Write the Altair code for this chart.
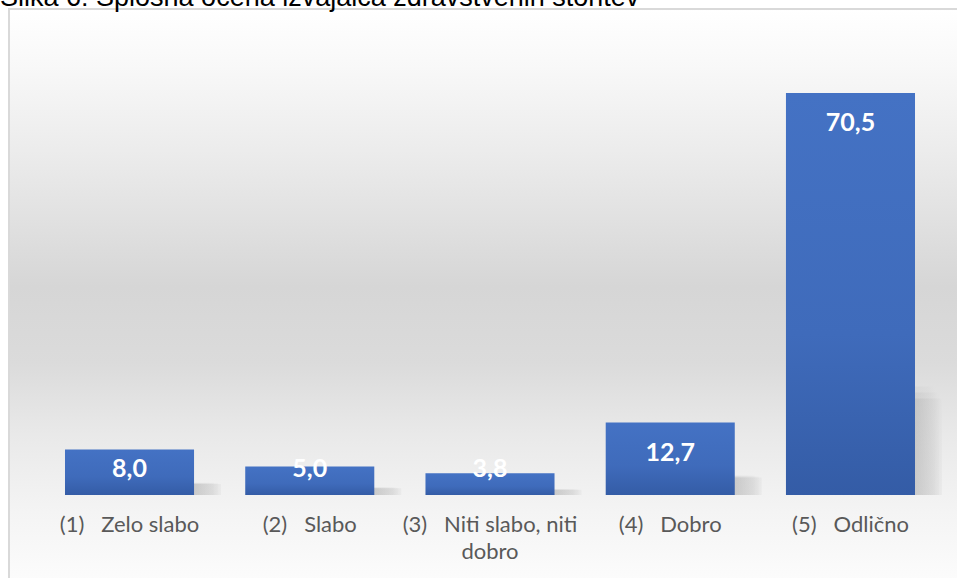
import altair as alt
import pandas as pd

# ---- data ----
categories = ["(1)   Zelo slabo", "(2)   Slabo", "(3)   Niti slabo, niti|dobro", "(4)   Dobro", "(5)   Odlično"]
values = [8.0, 5.0, 3.8, 12.7, 70.5]
value_labels = ["8,0", "5,0", "3,8", "12,7", "70,5"]
title_text = "Slika 6: Splošna ocena izvajalca zdravstvenih storitev"

df = pd.DataFrame({
    "cat": [c.replace(" ", "\u00a0") for c in categories],
    "value": values,
    "label": value_labels,
})

W, H = 901.2, 475
PAD = {"left": 39.4, "top": 20, "right": 16.4, "bottom": 83}

xenc = alt.X(
    "cat:N", sort=None,
    scale=alt.Scale(paddingInner=0.284, paddingOuter=0.142),
    axis=alt.Axis(
        title=None, domain=False, ticks=False, labelAngle=0, zindex=1,
        labelExpr="split(datum.label, '|')",
        labelFont="Lato", labelFontSize=22, labelColor="#595959",
        labelLineHeight=27, labelPadding=29, labelBaseline="middle",
    ),
)
yscale = alt.Scale(domain=[0, 83.3], nice=False, zero=True)

bg_grad = alt.Gradient(
    gradient="linear", x1=0, x2=0, y1=0, y2=1,
    stops=[
        alt.GradientStop(color="#ffffff", offset=0),
        alt.GradientStop(color="#f8f8f8", offset=0.1),
        alt.GradientStop(color="#ebebeb", offset=0.25),
        alt.GradientStop(color="#d6d6d6", offset=0.47),
        alt.GradientStop(color="#dbdbdb", offset=0.6),
        alt.GradientStop(color="#e9e9e9", offset=0.72),
        alt.GradientStop(color="#f4f4f4", offset=0.85),
        alt.GradientStop(color="#fefefe", offset=1),
    ],
)
background = alt.Chart(pd.DataFrame({"a": [0]})).mark_rect(
    fill=bg_grad, stroke="#d9d9d9", strokeWidth=2
).encode(
    x=alt.value(-30.4), x2=alt.value(940), y=alt.value(-11), y2=alt.value(580)
)

shadow_grad = alt.Gradient(
    gradient="linear", x1=0, x2=1, y1=0, y2=0,
    stops=[
        alt.GradientStop(color="#a8a8a8", offset=0),
        alt.GradientStop(color="#acacac", offset=0.75),
        alt.GradientStop(color="#d0d0d0", offset=0.95),
        alt.GradientStop(color="#e0e0e0", offset=1),
    ],
)
shadow_layers = []
for off, frac, op in [(20, 0.27, 0.22), (24, 0.255, 0.28), (27, 0.24, 0.4)]:
    shadow_layers.append(
        alt.Chart(df).transform_calculate(sv=f"datum.value * {frac}").mark_bar(
            fill=shadow_grad, opacity=op, xOffset=off
        ).encode(x=xenc, y=alt.Y("sv:Q", scale=yscale, axis=None))
    )

bar_grad = alt.Gradient(
    gradient="linear", x1=0, x2=0, y1=0, y2=1,
    stops=[
        alt.GradientStop(color="#4472c4", offset=0),
        alt.GradientStop(color="#3f6bbb", offset=0.6),
        alt.GradientStop(color="#345ca6", offset=1),
    ],
)
bars = alt.Chart(df).mark_bar(fill=bar_grad).encode(
    x=xenc, y=alt.Y("value:Q", scale=yscale, axis=None)
)

labels = alt.Chart(df).transform_calculate(
    ly="max(datum.value - 5.09, 4.74)"
).mark_text(
    font="Lato", fontWeight="bold", fontSize=25, color="white", baseline="middle", dy=1
).encode(x=xenc, y=alt.Y("ly:Q", scale=yscale, axis=None), text="label:N")

title = alt.Chart(pd.DataFrame({"t": [title_text]})).mark_text(
    font="Liberation Sans", fontSize=27, color="#000000", align="left", baseline="alphabetic"
).encode(x=alt.value(-39.4), y=alt.value(-14.5), text="t:N")

chart = alt.layer(background, *shadow_layers, bars, labels, title).properties(
    width=W, height=H,
    autosize=alt.AutoSizeParams(type="none"),
    padding=PAD,
).configure_view(stroke=None)

chart.save("out.html", embed_options={"renderer": "svg", "actions": False})
